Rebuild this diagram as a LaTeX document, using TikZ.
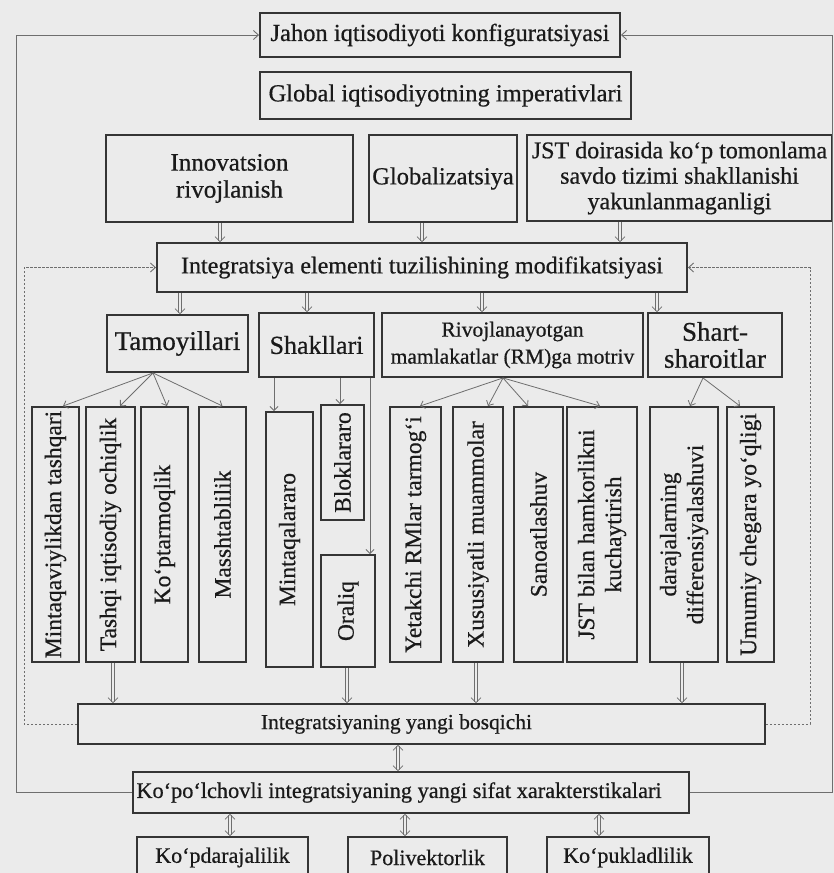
\documentclass[tikz,border=0pt]{standalone}
\usepackage{fontspec}
\setmainfont{Liberation Serif}[RawFeature={embolden=0.6}]
\usetikzlibrary{arrows.meta}
\definecolor{bgc}{HTML}{EBEBEB}
\definecolor{lc}{HTML}{353535}
\definecolor{ac}{HTML}{6E6E6E}
\definecolor{tc}{HTML}{1A1A1A}
\newcommand{\fsz}[2]{\fontsize{#1}{#2}\selectfont}
\begin{document}
\begin{tikzpicture}[x=1pt,y=-1pt,
  box/.style={draw=lc, line width=1.9pt, text=tc, inner sep=0pt, align=center},
  vbox/.style={box, rotate=90, font=\fsz{23.5}{27}},
  thin/.style={draw=ac, line width=0.8pt, -{Straight Barb[length=4pt,width=8pt]}},
  dbl/.style={draw=ac, double=bgc, double distance=2.2pt, line width=0.6pt, -{Straight Barb[length=5pt 0 0,width=10pt 0 0]}},
  dbltwo/.style={dbl, {Straight Barb[length=5pt 0 0,width=10pt 0 0]}-{Straight Barb[length=5pt 0 0,width=10pt 0 0]}},
  outer/.style={draw=ac, line width=0.9pt, -{Straight Barb[length=5pt,width=9pt]}},
  innerd/.style={outer, dash pattern=on 2.5pt off 1.5pt}]
\fill[bgc] (0,0) rectangle (834,873);
\useasboundingbox (0,0) rectangle (834,873);
\clip (0,0) rectangle (834,873);

% top boxes
\node[box, minimum width=360, minimum height=44, font=\fsz{24.5}{26}] (jahon) at (440,35) {Jahon iqtisodiyoti konfiguratsiyasi};
\node[box, minimum width=371, minimum height=47, font=\fsz{24.5}{26}] (global) at (445.5,95.5) {Global iqtisodiyotning imperativlari};
\node[box, minimum width=247, minimum height=87, font=\fsz{25}{27}] (innov) at (229.5,178.5) {Innovatsion\\rivojlanish};
\node[box, minimum width=148, minimum height=87, font=\fsz{24.5}{26}] (globz) at (443,178.5) {Globalizatsiya};
\node[box, minimum width=305, minimum height=86, font=\fsz{24}{25.5}] (jst) at (679.5,178) {JST doirasida ko‘p tomonlama\\savdo tizimi shakllanishi\\yakunlanmaganligi};
\node[box, minimum width=530, minimum height=49, font=\fsz{24}{26}] (intel) at (422,267.5) {Integratsiya elementi tuzilishining modifikatsiyasi};

% second level
\node[box, minimum width=141, minimum height=57, font=\fsz{27}{28}] (tam) at (177.5,343.5) {Tamoyillari};
\node[box, minimum width=115, minimum height=64, font=\fsz{26}{27}] (shak) at (316.5,345) {Shakllari};
\node[box, minimum width=261, minimum height=64, font=\fsz{21.5}{27}] (rivoj) at (512.5,345) {Rivojlanayotgan\\mamlakatlar (RM)ga motriv};
\node[box, minimum width=134, minimum height=64, font=\fsz{27}{27}] (shart) at (715,345) {Shart-\\sharoitlar};

% vertical boxes
\node[vbox, minimum width=255, minimum height=47] (v1) at (55.5,534.5) {Mintaqaviylikdan tashqari};
\node[vbox, minimum width=255, minimum height=49] (v2) at (110.5,534.5) {Tashqi iqtisodiy ochiqlik};
\node[vbox, minimum width=255, minimum height=47] (v3) at (164.5,534.5) {Ko‘ptarmoqlik};
\node[vbox, minimum width=255, minimum height=47] (v4) at (222.5,534.5) {Masshtablilik};
\node[vbox, minimum width=255, minimum height=47] (mintaqa) at (289.5,539.5) {Mintaqalararo};
\node[vbox, minimum width=115, minimum height=43] (blok) at (342.5,462.5) {Bloklararo};
\node[vbox, minimum width=112, minimum height=54] (oraliq) at (348,611) {Oraliq};
\node[vbox, minimum width=255, minimum height=51] (yet) at (415.5,534.5) {Yetakchi RMlar tarmog‘i};
\node[vbox, minimum width=255, minimum height=50] (xus) at (478,534.5) {Xususiyatli muammolar};
\node[vbox, minimum width=255, minimum height=49] (sanoat) at (538.5,534.5) {Sanoatlashuv};
\node[vbox, minimum width=255, minimum height=70] (jstb) at (602,534.5) {JST bilan hamkorlikni\\kuchaytirish};
\node[vbox, minimum width=255, minimum height=68] (daraj) at (684,534.5) {darajalarning\\differensiyalashuvi};
\node[vbox, minimum width=255, minimum height=47] (umum) at (750.5,534.5) {Umumiy chegara yo‘qligi};

% lower boxes
\node[box, minimum width=687, minimum height=40, font=\fsz{21.5}{24}] (yangi) at (421.5,724) {\hspace*{-50pt}Integratsiyaning yangi bosqichi};
\node[box, minimum width=556, minimum height=41, font=\fsz{22.3}{24}] (kopol) at (411,792.5) {\hspace*{-24pt}Ko‘po‘lchovli integratsiyaning yangi sifat xarakterstikalari};
\node[box, minimum width=171, minimum height=41, font=\fsz{22}{24}] (kopd) at (222.5,857.5) {Ko‘pdarajalilik};
\node[box, minimum width=159, minimum height=41, font=\fsz{22}{24}] (poliv) at (427.5,857.5) {Polivektorlik};
\node[box, minimum width=162, minimum height=41, font=\fsz{22}{24}] (kopuk) at (628,857.5) {Ko‘pukladlilik};

% outer feedback lines
\coordinate (oL) at (16,0);
\coordinate (oR) at (832,0);
\draw[outer] (kopol.west) -- (kopol.west -| oL) -- (jahon.west -| oL) -- (jahon.west);
\draw[outer] (kopol.east) -- (kopol.east -| oR) -- (jahon.east -| oR) -- (jahon.east);

% inner dashed feedback lines
\coordinate (iL) at (24,0);
\coordinate (iR) at (810,0);
\draw[innerd] (yangi.west) -- (yangi.west -| iL) -- (intel.west -| iL) -- (intel.west);
\draw[innerd] (yangi.east) -- (yangi.east -| iR) -- (intel.east -| iR) -- (intel.east);

% double connectors
\draw[dbl] ([xshift=-9.5pt]innov.south) -- ([xshift=-9.5pt]innov.south |- intel.north);
\draw[dbl] ([xshift=-21pt]globz.south) -- ([xshift=-21pt]globz.south |- intel.north);
\draw[dbl] ([xshift=-59.5pt]jst.south) -- ([xshift=-59.5pt]jst.south |- intel.north);
\draw[dbl] ([xshift=2.5pt]tam.north |- intel.south) -- ([xshift=2.5pt]tam.north);
\draw[dbl] ([xshift=-9.5pt]shak.north |- intel.south) -- ([xshift=-9.5pt]shak.north);
\draw[dbl] ([xshift=-30.5pt]rivoj.north |- intel.south) -- ([xshift=-30.5pt]rivoj.north);
\draw[dbl] ([xshift=-58pt]shart.north |- intel.south) -- ([xshift=-58pt]shart.north);
\draw[dbl] ([xshift=2.5pt]v2.west) -- ([xshift=2.5pt]v2.west |- yangi.north);
\draw[dbl] ([xshift=-1pt]oraliq.west) -- ([xshift=-1pt]oraliq.west |- yangi.north);
\draw[dbl] ([xshift=-2pt]xus.west) -- ([xshift=-2pt]xus.west |- yangi.north);
\draw[dbl] ([xshift=-2pt]daraj.west) -- ([xshift=-2pt]daraj.west |- yangi.north);
\draw[dbltwo] ([xshift=-13pt]kopol.north |- yangi.south) -- ([xshift=-13pt]kopol.north);
\draw[dbltwo] ([xshift=7.5pt]kopd.north |- kopol.south) -- ([xshift=7.5pt]kopd.north);
\draw[dbltwo] ([xshift=-22.5pt]poliv.north |- kopol.south) -- ([xshift=-22.5pt]poliv.north);
\draw[dbltwo] ([xshift=-29pt]kopuk.north |- kopol.south) -- ([xshift=-29pt]kopuk.north);

% thin arrows
\draw[thin] ([xshift=-24.5pt]tam.south) -- ([xshift=7.5pt]v1.east);
\draw[thin] ([xshift=-24.5pt]tam.south) -- ([xshift=9.5pt]v2.east);
\draw[thin] ([xshift=-24.5pt]tam.south) -- ([xshift=2.5pt]v3.east);
\draw[thin] ([xshift=-24.5pt]tam.south) -- (v4.east);
\draw[thin] ([xshift=-42.5pt]shak.south) -- ([xshift=-15.5pt]mintaqa.east);
\draw[thin] ([xshift=23.5pt]shak.south) -- ([xshift=-2.5pt]blok.east);
\draw[thin] ([xshift=53.5pt]shak.south) -- ([xshift=22pt]oraliq.east);
\draw[thin] ([xshift=-9.5pt]rivoj.south) -- ([xshift=4.5pt]yet.east);
\draw[thin] ([xshift=-9.5pt]rivoj.south) -- ([xshift=10pt]xus.east);
\draw[thin] ([xshift=-9.5pt]rivoj.south) -- ([xshift=-10.5pt]sanoat.east);
\draw[thin] ([xshift=-9.5pt]rivoj.south) -- ([xshift=-2pt]jstb.east);
\draw[thin] ([xshift=-12pt]shart.south) -- ([xshift=6pt]daraj.east);
\draw[thin] ([xshift=-12pt]shart.south) -- ([xshift=-10.5pt]umum.east);
\end{tikzpicture}
\end{document}
